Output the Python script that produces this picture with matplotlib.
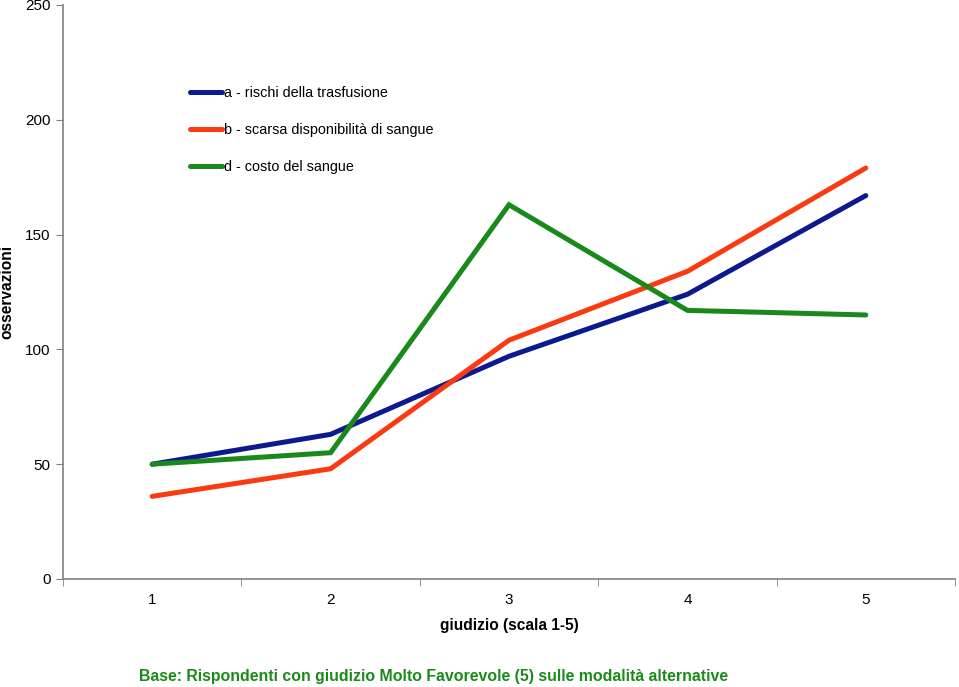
import matplotlib

matplotlib.use("Agg")
import matplotlib.pyplot as plt
import numpy as np

plt.rcParams["font.family"] = ["Liberation Sans", "DejaVu Sans"]

categories = [1, 2, 3, 4, 5]
series_a = [50, 63, 97, 124, 167]
series_b = [36, 48, 104, 134, 179]
series_d = [50, 55, 163, 117, 115]
labels = [
    "a - rischi della trasfusione",
    "b - scarsa disponibilità di sangue",
    "d - costo del sangue",
]
line_colors = ["#0b1a8e", "#fb3a12", "#18891a"]
y_ticks = [0, 50, 100, 150, 200, 250]

fig = plt.figure(figsize=(9.59, 6.87), dpi=100)
ax = fig.add_axes([63 / 959, 1 - 579 / 687, (955 - 63) / 959, (579 - 5) / 687])

for vals, lab, col in zip([series_a, series_b, series_d], labels, line_colors):
    ax.plot(categories, vals, color=col, lw=3.6, label=lab,
            solid_capstyle="round", solid_joinstyle="miter")

ax.set_xlim(0.5, 5.5)
ax.set_ylim(0, 250)
ax.set_yticks(y_ticks)
ax.set_xticks(categories)
ax.set_xticks(np.arange(0.5, 6.0, 1.0), minor=True)
ax.tick_params(axis="x", which="major", length=0, pad=10, labelsize=11)
ax.tick_params(axis="x", which="minor", length=5, color="#808080", direction="out")
ax.tick_params(axis="y", length=5, color="#808080", direction="out", pad=4, labelsize=11)

for side in ["top", "right"]:
    ax.spines[side].set_visible(False)
for side in ["left", "bottom"]:
    ax.spines[side].set_color("#808080")
    ax.spines[side].set_linewidth(1.2)

ax.set_ylabel("osservazioni", fontsize=11.2, fontweight="bold")
ax.set_xlabel("giudizio (scala 1-5)", fontsize=11.2, fontweight="bold", labelpad=8)
ax.yaxis.set_label_coords(-0.054, 0.5)

ax.legend(
    loc="upper left",
    bbox_to_anchor=((184 - 63) / 892, 1 - (80 - 5) / 574),
    frameon=False,
    fontsize=10.4,
    handlelength=2.25,
    handletextpad=0.1,
    labelspacing=1.6,
    borderaxespad=0,
)

fig.text(434 / 959, 1 - 676 / 687, "Base: Rispondenti con giudizio Molto Favorevole (5) sulle modalità alternative",
         color="#1a8a1a", fontsize=11.4, fontweight="bold", ha="center", va="center")

fig.savefig("out.png", dpi=100)
